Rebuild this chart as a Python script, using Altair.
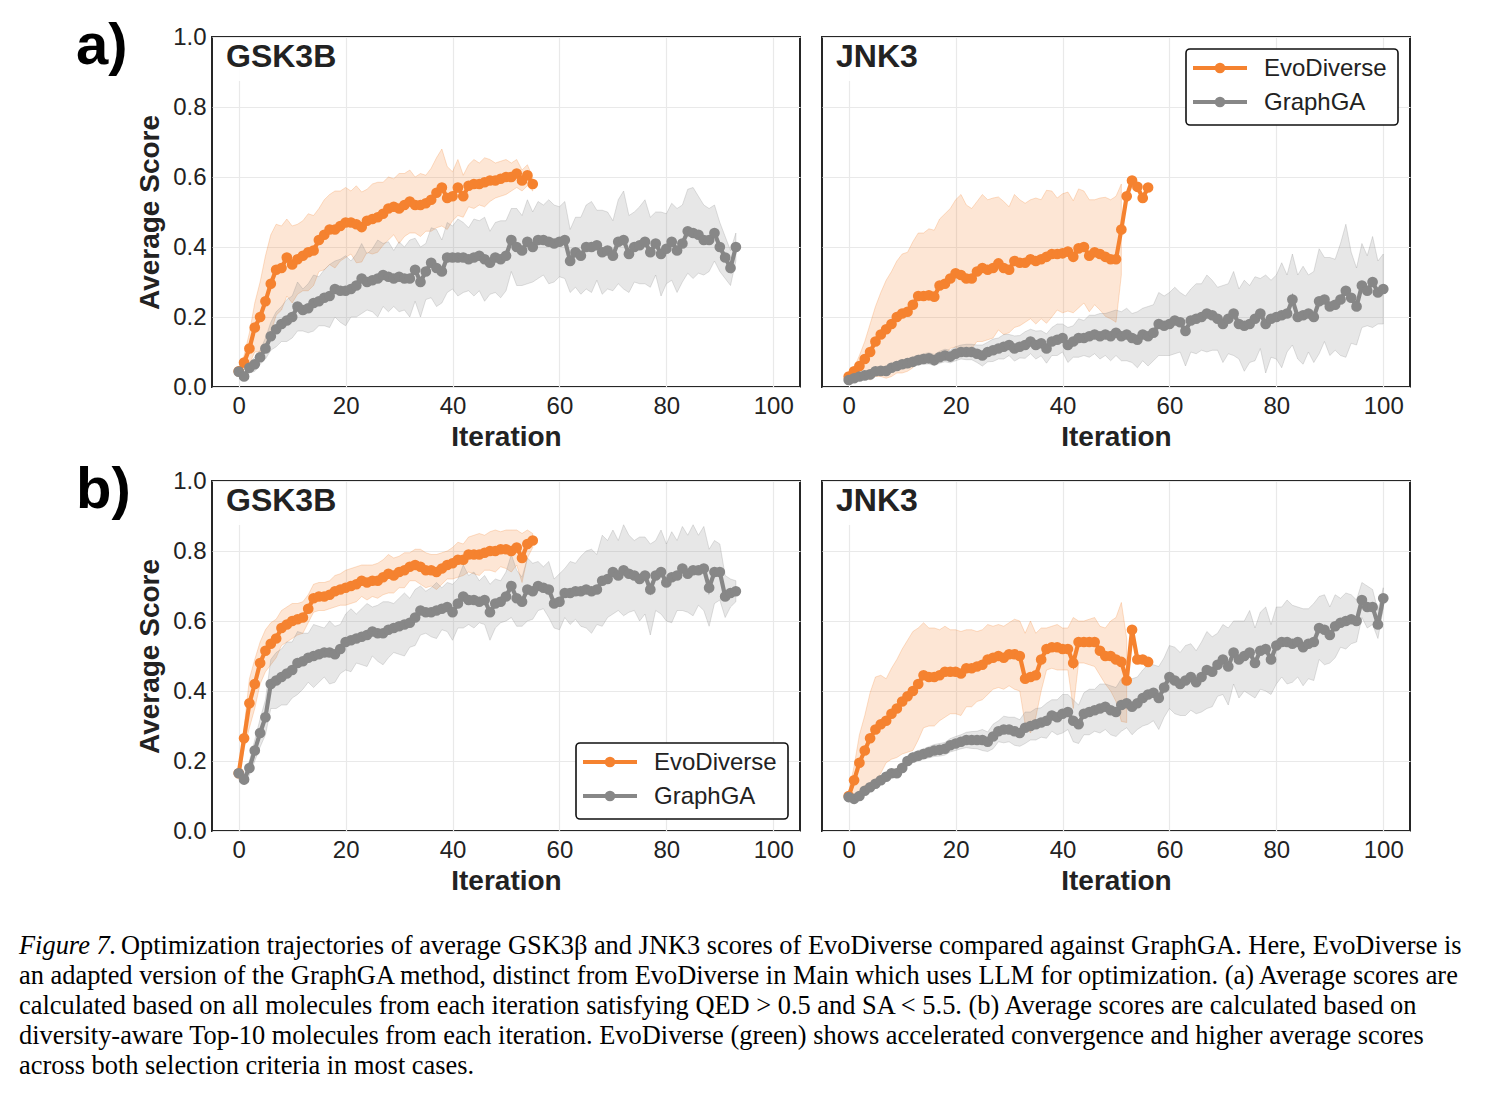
import altair as alt
import pandas as pd

ORANGE = "#F5822F"
GREY = "#878787"
INK = "#222222"
METHODS = ["EvoDiverse", "GraphGA"]
TARGETS = ["GSK3B", "JNK3"]
ROW_LABELS = ["a)", "b)"]
X_TICKS = [0, 20, 40, 60, 80, 100]
Y_TICKS = [0.0, 0.2, 0.4, 0.6, 0.8, 1.0]

CAPTION_HEAD = "Figure 7."
CAPTION_LINES = [
    "Optimization trajectories of average GSK3\u03b2 and JNK3 scores of EvoDiverse compared against GraphGA. Here, EvoDiverse is",
    "an adapted version of the GraphGA method, distinct from EvoDiverse in Main which uses LLM for optimization. (a) Average scores are",
    "calculated based on all molecules from each iteration satisfying QED > 0.5 and SA < 5.5. (b) Average scores are calculated based on",
    "diversity-aware Top-10 molecules from each iteration. EvoDiverse (green) shows accelerated convergence and higher average scores",
    "across both selection criteria in most cases.",
]

# ---- (a) all molecules with QED > 0.5 and SA < 5.5 ----
a_gsk_evo = [0.045, 0.07, 0.11, 0.17, 0.20, 0.245, 0.295, 0.335, 0.34, 0.37,
             0.35, 0.365, 0.375, 0.385, 0.39, 0.42, 0.435, 0.45, 0.45, 0.46,
             0.47, 0.47, 0.465, 0.457, 0.475, 0.48, 0.485, 0.495, 0.51, 0.515,
             0.51, 0.52, 0.53, 0.52, 0.52, 0.525, 0.535, 0.555, 0.57, 0.54,
             0.545, 0.57, 0.545, 0.575, 0.58, 0.58, 0.585, 0.59, 0.59, 0.595,
             0.60, 0.60, 0.61, 0.59, 0.605, 0.58]
a_gsk_evo_sd = [0.005, 0.02, 0.045, 0.07, 0.10, 0.13, 0.14, 0.13, 0.12, 0.11,
                0.11, 0.10, 0.10, 0.11, 0.10, 0.09, 0.10, 0.10, 0.11, 0.10,
                0.10, 0.09, 0.11, 0.10, 0.09, 0.10, 0.10, 0.09, 0.09, 0.08,
                0.10, 0.09, 0.09, 0.08, 0.09, 0.08, 0.09, 0.10, 0.11, 0.09,
                0.07, 0.08, 0.06, 0.06, 0.07, 0.06, 0.07, 0.06, 0.05, 0.05,
                0.05, 0.04, 0.04, 0.03, 0.03, 0.02]
a_gsk_gga = [0.044, 0.03, 0.055, 0.065, 0.085, 0.11, 0.145, 0.165, 0.18, 0.19,
             0.20, 0.23, 0.22, 0.225, 0.24, 0.245, 0.255, 0.26, 0.28, 0.275,
             0.275, 0.28, 0.29, 0.31, 0.30, 0.305, 0.31, 0.32, 0.315, 0.31,
             0.315, 0.31, 0.31, 0.335, 0.30, 0.33, 0.355, 0.34, 0.33, 0.37,
             0.37, 0.37, 0.37, 0.365, 0.37, 0.375, 0.365, 0.355, 0.37, 0.365,
             0.375, 0.42, 0.40, 0.39, 0.415, 0.40, 0.42, 0.42, 0.415, 0.41,
             0.415, 0.42, 0.36, 0.385, 0.375, 0.40, 0.40, 0.405, 0.385, 0.39,
             0.375, 0.415, 0.42, 0.38, 0.40, 0.405, 0.415, 0.385, 0.41, 0.38,
             0.395, 0.415, 0.39, 0.41, 0.445, 0.44, 0.435, 0.42, 0.42, 0.44,
             0.40, 0.37, 0.34, 0.40]
a_gsk_gga_sd = [0.01, 0.01, 0.015, 0.02, 0.02, 0.03, 0.04, 0.05, 0.05, 0.06,
                0.06, 0.07, 0.06, 0.07, 0.08, 0.07, 0.08, 0.09, 0.08, 0.09,
                0.10, 0.08, 0.09, 0.10, 0.08, 0.09, 0.11, 0.09, 0.10, 0.08,
                0.10, 0.09, 0.11, 0.09, 0.10, 0.08, 0.10, 0.11, 0.09, 0.10,
                0.09, 0.11, 0.10, 0.09, 0.11, 0.10, 0.12, 0.09, 0.10, 0.11,
                0.10, 0.09, 0.11, 0.10, 0.12, 0.10, 0.11, 0.10, 0.12, 0.11,
                0.10, 0.11, 0.09, 0.10, 0.11, 0.12, 0.13, 0.10, 0.12, 0.11,
                0.10, 0.12, 0.14, 0.11, 0.10, 0.11, 0.12, 0.10, 0.09, 0.12,
                0.10, 0.11, 0.12, 0.11, 0.12, 0.13, 0.11, 0.10, 0.09, 0.08,
                0.07, 0.06, 0.05, 0.04]

a_jnk_evo = [0.03, 0.045, 0.06, 0.08, 0.10, 0.13, 0.15, 0.165, 0.18, 0.20,
             0.21, 0.215, 0.235, 0.26, 0.26, 0.262, 0.258, 0.29, 0.295, 0.31,
             0.325, 0.32, 0.31, 0.31, 0.33, 0.34, 0.335, 0.34, 0.353, 0.34,
             0.335, 0.36, 0.355, 0.355, 0.365, 0.36, 0.365, 0.372, 0.38, 0.38,
             0.382, 0.387, 0.372, 0.396, 0.40, 0.375, 0.385, 0.38, 0.372, 0.365,
             0.365, 0.45, 0.545, 0.59, 0.572, 0.54, 0.57]
a_jnk_evo_sd = [0.0, 0.01, 0.03, 0.05, 0.08, 0.10, 0.12, 0.14, 0.15, 0.16,
                0.17, 0.17, 0.18, 0.18, 0.18, 0.19, 0.19, 0.19, 0.20, 0.20,
                0.21, 0.23, 0.21, 0.20, 0.20, 0.21, 0.20, 0.20, 0.19, 0.19,
                0.18, 0.19, 0.18, 0.17, 0.17, 0.18, 0.17, 0.19, 0.18, 0.16,
                0.17, 0.17, 0.16, 0.17, 0.16, 0.16, 0.15, 0.16, 0.17, 0.17,
                0.18, 0.13]
a_jnk_gga = [0.02, 0.025, 0.03, 0.033, 0.036, 0.045, 0.046, 0.046, 0.055, 0.06,
             0.065, 0.068, 0.072, 0.077, 0.08, 0.082, 0.077, 0.085, 0.09, 0.087,
             0.095, 0.10, 0.10, 0.10, 0.095, 0.09, 0.10, 0.105, 0.11, 0.115,
             0.12, 0.11, 0.115, 0.12, 0.13, 0.12, 0.125, 0.11, 0.13, 0.135,
             0.14, 0.12, 0.13, 0.14, 0.14, 0.145, 0.15, 0.145, 0.15, 0.145,
             0.155, 0.145, 0.15, 0.14, 0.135, 0.15, 0.145, 0.155, 0.18, 0.175,
             0.18, 0.19, 0.185, 0.16, 0.19, 0.195, 0.20, 0.21, 0.205, 0.195,
             0.18, 0.195, 0.21, 0.18, 0.175, 0.18, 0.195, 0.21, 0.18, 0.195,
             0.20, 0.205, 0.21, 0.25, 0.20, 0.205, 0.21, 0.20, 0.245, 0.25,
             0.23, 0.235, 0.25, 0.275, 0.255, 0.23, 0.29, 0.275, 0.30, 0.27,
             0.28]
a_jnk_gga_sd = [0.003, 0.005, 0.006, 0.007, 0.008, 0.009, 0.01, 0.01, 0.011, 0.012,
                0.012, 0.013, 0.014, 0.014, 0.015, 0.016, 0.016, 0.017, 0.018, 0.018,
                0.02, 0.02, 0.022, 0.022, 0.025, 0.03, 0.028, 0.032, 0.03, 0.035,
                0.03, 0.036, 0.032, 0.038, 0.035, 0.04, 0.036, 0.042, 0.04, 0.045,
                0.04, 0.05, 0.045, 0.055, 0.05, 0.06, 0.055, 0.065, 0.06, 0.07,
                0.065, 0.07, 0.075, 0.07, 0.08, 0.075, 0.085, 0.08, 0.09, 0.085,
                0.09, 0.095, 0.085, 0.10, 0.09, 0.10, 0.095, 0.11, 0.10, 0.09,
                0.11, 0.10, 0.12, 0.10, 0.13, 0.11, 0.12, 0.10, 0.14, 0.11,
                0.12, 0.15, 0.11, 0.13, 0.12, 0.14, 0.11, 0.13, 0.15, 0.12,
                0.14, 0.13, 0.16, 0.19, 0.13, 0.11, 0.12, 0.10, 0.13, 0.09,
                0.10]

# ---- (b) diversity-aware Top-10 molecules ----
b_gsk_evo = [0.165, 0.265, 0.365, 0.42, 0.48, 0.515, 0.535, 0.55, 0.58, 0.59,
             0.60, 0.605, 0.61, 0.635, 0.665, 0.67, 0.67, 0.675, 0.685, 0.69,
             0.695, 0.70, 0.705, 0.715, 0.71, 0.715, 0.715, 0.725, 0.735, 0.73,
             0.74, 0.745, 0.755, 0.76, 0.755, 0.745, 0.745, 0.74, 0.75, 0.76,
             0.765, 0.775, 0.775, 0.79, 0.79, 0.79, 0.795, 0.80, 0.80, 0.805,
             0.805, 0.80, 0.81, 0.78, 0.82, 0.83]
b_gsk_evo_sd = [0.01, 0.03, 0.07, 0.07, 0.06, 0.06, 0.06, 0.055, 0.05, 0.05,
                0.05, 0.045, 0.045, 0.04, 0.04, 0.04, 0.04, 0.04, 0.045, 0.045,
                0.05, 0.05, 0.05, 0.045, 0.05, 0.045, 0.05, 0.05, 0.055, 0.05,
                0.045, 0.05, 0.04, 0.045, 0.05, 0.05, 0.045, 0.05, 0.045, 0.04,
                0.045, 0.05, 0.045, 0.05, 0.055, 0.06, 0.05, 0.055, 0.06, 0.05,
                0.055, 0.06, 0.05, 0.07, 0.04, 0.02]
b_gsk_gga = [0.165, 0.147, 0.18, 0.23, 0.28, 0.325, 0.42, 0.43, 0.44, 0.45,
             0.46, 0.48, 0.485, 0.495, 0.50, 0.505, 0.51, 0.51, 0.505, 0.52,
             0.54, 0.545, 0.55, 0.555, 0.56, 0.57, 0.565, 0.565, 0.575, 0.58,
             0.585, 0.59, 0.595, 0.61, 0.63, 0.625, 0.625, 0.63, 0.635, 0.64,
             0.625, 0.65, 0.67, 0.66, 0.66, 0.655, 0.66, 0.625, 0.65, 0.655,
             0.67, 0.70, 0.665, 0.655, 0.69, 0.685, 0.70, 0.695, 0.69, 0.65,
             0.655, 0.68, 0.68, 0.685, 0.685, 0.69, 0.685, 0.69, 0.715, 0.72,
             0.74, 0.73, 0.745, 0.735, 0.73, 0.72, 0.73, 0.69, 0.73, 0.74,
             0.71, 0.725, 0.73, 0.75, 0.735, 0.745, 0.745, 0.75, 0.695, 0.74,
             0.74, 0.67, 0.68, 0.685]
b_gsk_gga_sd = [0.01, 0.015, 0.02, 0.03, 0.04, 0.05, 0.07, 0.08, 0.08, 0.09,
                0.08, 0.09, 0.08, 0.07, 0.09, 0.08, 0.07, 0.09, 0.08, 0.07,
                0.08, 0.09, 0.07, 0.08, 0.09, 0.07, 0.08, 0.09, 0.08, 0.07,
                0.08, 0.09, 0.07, 0.08, 0.07, 0.06, 0.07, 0.08, 0.06, 0.07,
                0.08, 0.07, 0.09, 0.07, 0.08, 0.06, 0.07, 0.08, 0.07, 0.06,
                0.07, 0.09, 0.08, 0.07, 0.09, 0.08, 0.07, 0.06, 0.08, 0.07,
                0.08, 0.07, 0.09, 0.08, 0.10, 0.11, 0.12, 0.10, 0.13, 0.11,
                0.12, 0.10, 0.13, 0.11, 0.10, 0.12, 0.11, 0.13, 0.10, 0.12,
                0.11, 0.13, 0.10, 0.12, 0.11, 0.13, 0.10, 0.12, 0.11, 0.09,
                0.08, 0.06, 0.04, 0.03]

b_jnk_evo = [0.10, 0.145, 0.195, 0.23, 0.265, 0.29, 0.305, 0.315, 0.335, 0.35,
             0.37, 0.385, 0.40, 0.42, 0.445, 0.44, 0.44, 0.445, 0.455, 0.455,
             0.455, 0.45, 0.465, 0.465, 0.47, 0.475, 0.49, 0.495, 0.50, 0.495,
             0.505, 0.505, 0.50, 0.435, 0.44, 0.445, 0.49, 0.52, 0.525, 0.525,
             0.52, 0.52, 0.48, 0.54, 0.54, 0.54, 0.54, 0.515, 0.50, 0.50,
             0.49, 0.483, 0.43, 0.575, 0.49, 0.49, 0.483]
b_jnk_evo_sd = [0.01, 0.04, 0.08, 0.10, 0.13, 0.15, 0.14, 0.12, 0.13, 0.14,
                0.15, 0.16, 0.17, 0.16, 0.15, 0.14, 0.14, 0.13, 0.13, 0.12,
                0.12, 0.12, 0.11, 0.11, 0.10, 0.10, 0.10, 0.09, 0.09, 0.09,
                0.09, 0.10, 0.10, 0.13, 0.16, 0.12, 0.09, 0.06, 0.06, 0.065,
                0.06, 0.06, 0.13, 0.06, 0.06, 0.065, 0.07, 0.07, 0.08, 0.10,
                0.12, 0.17, 0.12]
b_jnk_gga = [0.097, 0.092, 0.10, 0.115, 0.125, 0.135, 0.145, 0.155, 0.165, 0.165,
             0.18, 0.20, 0.21, 0.215, 0.22, 0.225, 0.23, 0.232, 0.235, 0.245,
             0.25, 0.255, 0.26, 0.26, 0.26, 0.26, 0.255, 0.27, 0.285, 0.29,
             0.29, 0.285, 0.28, 0.295, 0.30, 0.305, 0.31, 0.315, 0.33, 0.325,
             0.335, 0.34, 0.315, 0.305, 0.335, 0.34, 0.345, 0.35, 0.355, 0.345,
             0.34, 0.36, 0.365, 0.355, 0.365, 0.38, 0.39, 0.395, 0.38, 0.41,
             0.44, 0.43, 0.42, 0.43, 0.44, 0.425, 0.44, 0.46, 0.455, 0.475,
             0.49, 0.47, 0.51, 0.49, 0.50, 0.51, 0.48, 0.515, 0.52, 0.49,
             0.53, 0.54, 0.54, 0.535, 0.54, 0.525, 0.535, 0.54, 0.58, 0.575,
             0.56, 0.585, 0.595, 0.60, 0.605, 0.60, 0.66, 0.64, 0.64, 0.59,
             0.665]
b_jnk_gga_sd = [0.005, 0.006, 0.007, 0.008, 0.009, 0.01, 0.01, 0.011, 0.012, 0.012,
                0.013, 0.014, 0.014, 0.015, 0.015, 0.016, 0.017, 0.018, 0.018, 0.019,
                0.02, 0.02, 0.022, 0.024, 0.025, 0.03, 0.028, 0.035, 0.03, 0.038,
                0.035, 0.04, 0.038, 0.045, 0.04, 0.045, 0.042, 0.05, 0.045, 0.05,
                0.055, 0.05, 0.06, 0.055, 0.06, 0.065, 0.06, 0.07, 0.065, 0.07,
                0.07, 0.075, 0.07, 0.08, 0.075, 0.08, 0.085, 0.08, 0.09, 0.085,
                0.09, 0.095, 0.09, 0.10, 0.095, 0.09, 0.10, 0.11, 0.10, 0.09,
                0.10, 0.11, 0.09, 0.11, 0.10, 0.12, 0.10, 0.11, 0.12, 0.10,
                0.11, 0.10, 0.12, 0.11, 0.10, 0.11, 0.10, 0.11, 0.09, 0.10,
                0.08, 0.09, 0.07, 0.08, 0.07, 0.06, 0.05, 0.06, 0.05, 0.04,
                0.03]

W, H = 588, 350
FONT = "Liberation Sans"
SERIF = "Liberation Serif"
CAPTION_SIZE = 26.4
DOT = 115
LINE_W = 4.2
X_SCALE = alt.Scale(domain=[-5, 105], nice=False, zero=False)
Y_SCALE = alt.Scale(domain=[0, 1], nice=False)


def x_axis():
    return alt.Axis(values=X_TICKS, title="Iteration", labelFontSize=24, titleFontSize=28,
                    titleFontWeight="bold", labelFont=FONT, titleFont=FONT,
                    labelColor=INK, titleColor=INK, labelPadding=7, titlePadding=5,
                    ticks=False, domain=False, grid=True, gridColor="#e9e9e9",
                    gridWidth=1.2, labelFlush=False)


def y_axis(show):
    if show:
        return alt.Axis(values=Y_TICKS, format=".1f", title="Average Score", labelFontSize=24,
                        titleFontSize=28, titleFontWeight="bold", labelFont=FONT,
                        titleFont=FONT, labelColor=INK, titleColor=INK, labelPadding=6,
                        titlePadding=8, ticks=False, domain=False, grid=True,
                        gridColor="#e9e9e9", gridWidth=1.2)
    return alt.Axis(values=Y_TICKS, labels=False, title="", ticks=False, domain=False,
                    grid=True, gridColor="#e9e9e9", gridWidth=1.2)


def series(mean, spread, method):
    line = pd.DataFrame({"iteration": list(range(len(mean))), "score": mean, "method": method})
    band = pd.DataFrame({
        "iteration": list(range(len(spread))),
        "lo": [m - s for m, s in zip(mean, spread)],
        "hi": [m + s for m, s in zip(mean, spread)],
    })
    return line, band


def panel(target, evo, evo_sd, gga, gga_sd, left, legend_at=None, row_label=None, caption=False):
    evo_line, evo_band = series(evo, evo_sd, METHODS[0])
    gga_line, gga_band = series(gga, gga_sd, METHODS[1])
    xe = alt.X("iteration:Q", scale=X_SCALE, axis=x_axis())
    layers = []
    # shaded spread around each mean curve
    for band, col in ((evo_band, ORANGE), (gga_band, GREY)):
        layers.append(
            alt.Chart(band).mark_area(fill=col, fillOpacity=0.2, stroke=col, strokeOpacity=0.25,
                                      strokeWidth=1, clip=True)
            .encode(x=xe, y=alt.Y("lo:Q", scale=Y_SCALE, axis=y_axis(left)), y2="hi:Q")
        )
    # mean curves with a dot per iteration
    for line, col in ((evo_line, ORANGE), (gga_line, GREY)):
        enc = dict(x=xe, y=alt.Y("score:Q", scale=Y_SCALE, axis=y_axis(left)))
        layers.append(alt.Chart(line).mark_line(color=col, strokeWidth=LINE_W).encode(**enc))
        layers.append(alt.Chart(line).mark_circle(color=col, size=DOT, opacity=1).encode(**enc))

    # target name in the upper-left corner, on a white patch
    name = pd.DataFrame({"target": [target]})
    box_w = 132 if target == "GSK3B" else 104
    layers.append(alt.Chart(name).mark_rect(fill="white", opacity=0.9).encode(
        x=alt.value(1), x2=alt.value(box_w), y=alt.value(1), y2=alt.value(44)))
    layers.append(alt.Chart(name).mark_text(align="left", baseline="alphabetic", fontSize=32,
                                            fontWeight="bold", font=FONT, color=INK).encode(
        x=alt.value(14), y=alt.value(30), text="target:N"))

    if legend_at is not None:
        lx, ly = legend_at
        legend_df = pd.DataFrame({"method": METHODS})
        layers.append(alt.Chart(legend_df.head(1)).mark_rect(
            fill="white", stroke="#111111", strokeWidth=1.6, cornerRadius=4).encode(
            x=alt.value(lx), x2=alt.value(lx + 212), y=alt.value(ly), y2=alt.value(ly + 76)))
        for k, (m, col) in enumerate(zip(METHODS, (ORANGE, GREY))):
            row = legend_df[legend_df["method"] == m]
            cy = ly + 19 + 34 * k
            layers.append(alt.Chart(row).mark_rule(color=col, strokeWidth=LINE_W).encode(
                x=alt.value(lx + 7), x2=alt.value(lx + 61), y=alt.value(cy)))
            layers.append(alt.Chart(row).mark_circle(color=col, size=DOT, opacity=1).encode(
                x=alt.value(lx + 34), y=alt.value(cy)))
            layers.append(alt.Chart(row).mark_text(align="left", baseline="middle", fontSize=24,
                                                   font=FONT, color=INK).encode(
                x=alt.value(lx + 78), y=alt.value(cy + 1), text="method:N"))

    if row_label is not None:
        lab = pd.DataFrame({"label": [row_label]})
        layers.append(alt.Chart(lab).mark_text(align="left", baseline="alphabetic", fontSize=58,
                                               fontWeight="bold", font=FONT, color="black").encode(
            x=alt.value(-136), y=alt.value(27), text="label:N"))

    if caption:
        head = pd.DataFrame({"t": [CAPTION_HEAD]})
        layers.append(alt.Chart(head).mark_text(align="left", baseline="alphabetic",
                                                fontSize=CAPTION_SIZE, fontStyle="italic",
                                                font=SERIF, color="black").encode(
            x=alt.value(-193), y=alt.value(473), text="t:N"))
        for k, txt in enumerate(CAPTION_LINES):
            d = pd.DataFrame({"t": [txt]})
            layers.append(alt.Chart(d).mark_text(align="left", baseline="alphabetic",
                                                 fontSize=CAPTION_SIZE, font=SERIF,
                                                 color="black").encode(
                x=alt.value(-91 if k == 0 else -193), y=alt.value(473 + 30 * k), text="t:N"))

    return alt.layer(*layers).properties(width=W, height=H)


panels = [
    panel("GSK3B", a_gsk_evo, a_gsk_evo_sd, a_gsk_gga, a_gsk_gga_sd, True, row_label=ROW_LABELS[0]),
    panel("JNK3", a_jnk_evo, a_jnk_evo_sd, a_jnk_gga, a_jnk_gga_sd, False, legend_at=(364, 12)),
    panel("GSK3B", b_gsk_evo, b_gsk_evo_sd, b_gsk_gga, b_gsk_gga_sd, True, legend_at=(364, 262),
          row_label=ROW_LABELS[1], caption=True),
    panel("JNK3", b_jnk_evo, b_jnk_evo_sd, b_jnk_gga, b_jnk_gga_sd, False),
]

chart = (
    alt.concat(*panels, columns=2, spacing={"row": 94, "column": 22}, bounds="flush")
    .properties(padding={"left": 18, "top": 17, "right": 5, "bottom": 5}, background="white")
    .configure_view(stroke="#262626", strokeWidth=2)
)

chart.save("out.html", embed_options={"renderer": "svg", "actions": False})
